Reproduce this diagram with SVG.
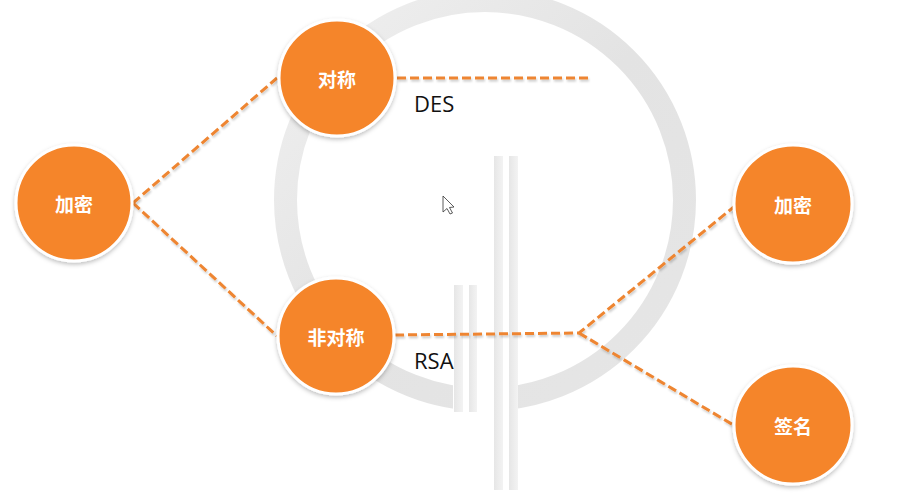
<svg xmlns="http://www.w3.org/2000/svg" width="899" height="495" viewBox="0 0 899 495">
<defs>
<style>
.node circle{fill:#F5852A;stroke:#ffffff;stroke-width:3;filter:url(#sh)}
.node text{fill:#ffffff;font-family:"Noto Sans CJK SC","Noto Sans",sans-serif;font-weight:bold;font-size:19px;text-anchor:middle;dominant-baseline:central}
.conn path{fill:none;stroke:#EE8530;stroke-width:3;stroke-dasharray:9 4;filter:url(#lsh)}
.lbl{font-family:"Open Sans","Noto Sans",sans-serif;font-size:22px;fill:#111}
.bar{fill:url(#bg)}
</style>
<filter id="sh" x="-20%" y="-20%" width="140%" height="140%">
<feDropShadow dx="0" dy="2" stdDeviation="2" flood-color="#000" flood-opacity="0.25"/>
</filter>
<filter id="lsh" filterUnits="userSpaceOnUse" x="0" y="0" width="899" height="495">
<feDropShadow dx="1" dy="2" stdDeviation="1" flood-color="#000" flood-opacity="0.2"/>
</filter>
<linearGradient id="rg" x1="0" y1="0" x2="1" y2="1">
<stop offset="0" stop-color="#f0f0f0"/>
<stop offset="0.5" stop-color="#e3e3e3"/>
<stop offset="1" stop-color="#e6e6e6"/>
</linearGradient>
<linearGradient id="bg" x1="0" y1="0" x2="1" y2="0">
<stop offset="0" stop-color="#e6e6e6"/>
<stop offset="1" stop-color="#f3f3f3"/>
</linearGradient>
<mask id="gap">
<rect x="0" y="0" width="899" height="495" fill="#fff"/>
<rect x="453" y="300" width="65" height="200" fill="#000"/>
</mask>
</defs>
<rect width="899" height="495" fill="#ffffff"/>
<g id="background">
<circle cx="485" cy="200" r="199.5" fill="none" stroke="url(#rg)" stroke-width="23" mask="url(#gap)"/>
<rect class="bar" x="454" y="285" width="9" height="127"/>
<rect class="bar" x="469" y="285" width="8" height="127"/>
<rect class="bar" x="494" y="156" width="9" height="334"/>
<rect class="bar" x="509" y="156" width="9" height="334"/>
<path d="M443,196 L443,212 L447,208.5 L450,214 L452.5,213 L449.5,207.5 L454,207 Z" fill="#fff" stroke="#333" stroke-width="0.8"/>
</g>
<g id="connectors" class="conn">
<path d="M133,203 L277,78"/>
<path d="M133,203 L277,336"/>
<path d="M397,78 L588,78"/>
<path d="M395,335 L579,333 L735,206"/>
<path d="M579,333 L735,426"/>
</g>
<g id="node-encrypt-left" class="node">
<circle cx="74" cy="203" r="58"/>
<text x="74" y="203">加密</text>
</g>
<g id="node-symmetric" class="node">
<circle cx="337" cy="78" r="58"/>
<text x="337" y="78">对称</text>
</g>
<g id="node-asymmetric" class="node">
<circle cx="336" cy="336" r="58"/>
<text x="336" y="336">非对称</text>
</g>
<g id="node-encrypt-right" class="node">
<circle cx="793" cy="204" r="59"/>
<text x="793" y="204">加密</text>
</g>
<g id="node-sign" class="node">
<circle cx="793" cy="425" r="59"/>
<text x="793" y="425">签名</text>
</g>
<text class="lbl" x="414" y="112">DES</text>
<text class="lbl" x="414" y="369">RSA</text>
</svg>
